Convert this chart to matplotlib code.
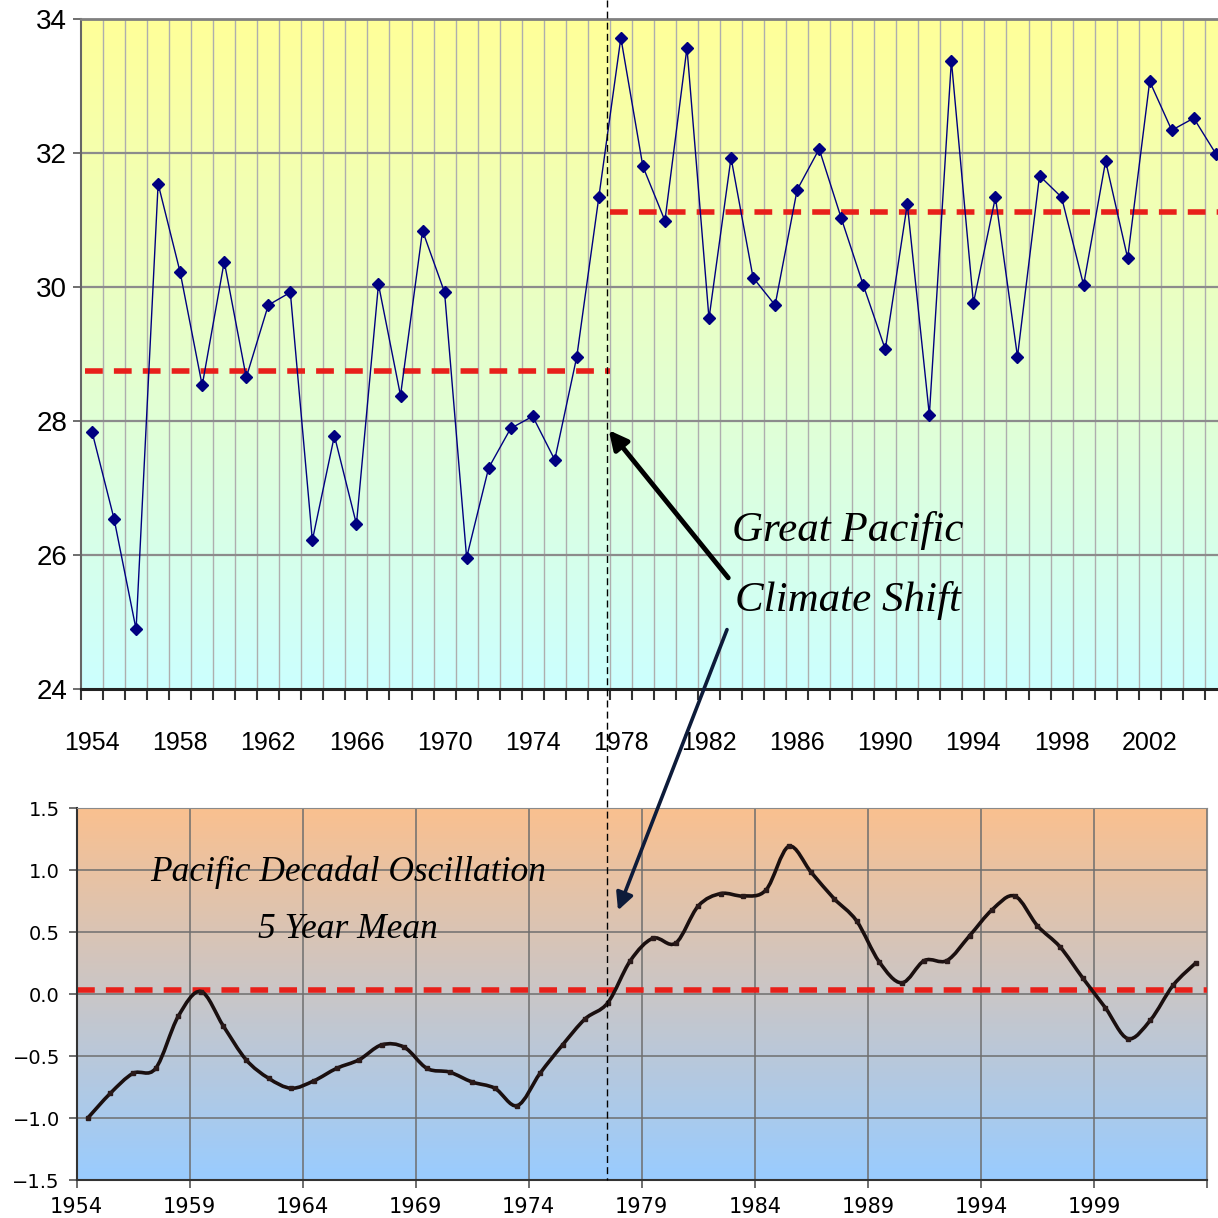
import numpy as np
import matplotlib
matplotlib.use("Agg")
import matplotlib.pyplot as plt
from matplotlib.colors import LinearSegmentedColormap
from matplotlib.path import Path
from matplotlib.patches import PathPatch, FancyArrowPatch
from matplotlib.lines import Line2D

# ---- data ------------------------------------------------------------------
years_top = list(range(1954, 2006))
temp = [27.84, 26.54, 24.89, 31.54, 30.22, 28.53, 30.38, 28.65, 29.73, 29.92,
        26.22, 27.78, 26.46, 30.04, 28.38, 30.84, 29.92, 25.96, 27.30, 27.89,
        28.07, 27.42, 28.96, 31.34, 33.72, 31.80, 30.99, 33.57, 29.53, 31.93,
        30.14, 29.73, 31.45, 32.06, 31.03, 30.03, 29.07, 31.24, 28.09, 33.38,
        29.76, 31.34, 28.96, 31.66, 31.34, 30.03, 31.88, 30.43, 33.07, 32.34,
        32.52, 31.99]
mean_before, mean_after = 28.75, 31.12
shift_year = 1977.5
top_ticklabels = list(range(1954, 2003, 4))

years_pdo = list(range(1954, 2004))
pdo = [-1.00, -0.80, -0.64, -0.60, -0.18, 0.02, -0.26, -0.53, -0.68, -0.76,
       -0.70, -0.60, -0.53, -0.41, -0.43, -0.60, -0.63, -0.71, -0.76, -0.90,
       -0.64, -0.41, -0.20, -0.07, 0.27, 0.45, 0.41, 0.71, 0.81, 0.79,
       0.84, 1.19, 0.98, 0.77, 0.59, 0.26, 0.09, 0.27, 0.27, 0.47,
       0.68, 0.79, 0.55, 0.38, 0.13, -0.11, -0.36, -0.21, 0.07, 0.25]
pdo_mean = 0.03
pdo_ticks = list(range(1954, 2005, 5))

# ---- layout helpers (pixel -> figure fraction) ------------------------------
W = H = 1218
def fx(x): return x / W
def fy(y): return 1 - y / H

def gradient(ax, top, bottom):
    cm = LinearSegmentedColormap.from_list("g", [bottom, top])
    g = np.linspace(0, 1, 256).reshape(-1, 1)
    ax.imshow(g, extent=[0, 1, 0, 1], transform=ax.transAxes, origin="lower",
              aspect="auto", cmap=cm, zorder=0)

def smooth_path(x, y):
    """Catmull-Rom -> cubic Bezier through the data points (Excel 'smoothed line')."""
    x = np.asarray(x, float); y = np.asarray(y, float)
    P = np.column_stack([x, y])
    Q = np.vstack([P[0], P, P[-1]])
    verts = [P[0]]; codes = [Path.MOVETO]
    for i in range(len(P) - 1):
        p0, p1, p2, p3 = Q[i], Q[i+1], Q[i+2], Q[i+3]
        verts += [p1 + (p2 - p0) / 6, p2 - (p3 - p1) / 6, p2]
        codes += [Path.CURVE4] * 3
    return Path(verts, codes)

fig = plt.figure(figsize=(W/100, H/100), dpi=100)
fig.patch.set_facecolor("white")

# ---- top panel ---------------------------------------------------------------
ax1 = fig.add_axes([fx(81), fy(689), 1 - fx(81), fy(19) - fy(689)])
gradient(ax1, "#FFFF99", "#CCFFFF")
ax1.set_xlim(1953.5, 2005.1); ax1.set_ylim(24, 34)
for b in np.arange(1954.5, 2005.5, 1):
    ax1.axvline(b, color="#AEAEAE", lw=1.0, zorder=1)
for v in [26, 28, 30, 32]:
    ax1.axhline(v, color="#8C8C8C", lw=1.6, zorder=1)
ax1.hlines(mean_before, 1953.7, shift_year, color="#E8201A", lw=4,
           linestyle=(0, (3.2, 2.0)), zorder=2)
ax1.hlines(mean_after, shift_year, 2005.1, color="#E8201A", lw=4,
           linestyle=(0, (3.2, 2.0)), zorder=2)
ax1.plot(years_top, temp, color="#000080", lw=1.0, marker="D", ms=6,
         mfc="#000080", mec="#000080", zorder=3, clip_on=False)
ax1.set_yticks([24, 26, 28, 30, 32, 34])
ax1.set_yticklabels(["24", "26", "28", "30", "32", "34"], family="Liberation Sans", size=20)
ax1.set_xticks(top_ticklabels)
ax1.set_xticklabels([str(t) for t in top_ticklabels], family="Liberation Sans", size=18)
ax1.set_xticks(np.arange(1953.5, 2005.5, 1), minor=True)
ax1.tick_params(axis="x", which="major", length=0, pad=30)
ax1.tick_params(axis="x", which="minor", length=8, width=1.5, color="#333333")
ax1.tick_params(axis="y", length=6, width=1.2, color="#555555", pad=4)
ax1.spines["right"].set_visible(False)
ax1.spines["top"].set_color("#808080"); ax1.spines["top"].set_linewidth(2)
ax1.spines["left"].set_color("#666666"); ax1.spines["left"].set_linewidth(1.5)
ax1.spines["bottom"].set_color("#222222"); ax1.spines["bottom"].set_linewidth(2.2)

# ---- bottom panel -----------------------------------------------------------
ax2 = fig.add_axes([fx(76.5), fy(1180), fx(1207) - fx(76.5), fy(808) - fy(1180)])
gradient(ax2, "#FAC08F", "#99CCFF")
ax2.set_xlim(1954, 2004); ax2.set_ylim(-1.5, 1.5)
ax2.set_xticks(pdo_ticks)
ax2.set_xticklabels([str(t) for t in pdo_ticks[:-1]] + [""], family="DejaVu Sans", size=15)
yt = [-1.5, -1.0, -0.5, 0.0, 0.5, 1.0, 1.5]
ax2.set_yticks(yt)
ax2.set_yticklabels([f"{v:.1f}".replace("-", "\u2212") for v in yt], family="DejaVu Sans", size=14)
ax2.grid(True, color="#6E6E6E", lw=1.1, zorder=1)
ax2.set_axisbelow(True)
ax2.axhline(pdo_mean, color="#E8201A", lw=4, linestyle=(0, (3.2, 2.0)), zorder=2)
xc = np.asarray(years_pdo) + 0.5          # category centres
ax2.add_patch(PathPatch(smooth_path(xc, pdo), fill=False, ec="#1A0F0F", lw=2.6, zorder=3))
ax2.plot(xc, pdo, ls="none", marker="s", ms=3.5, color="#2A1A1A", zorder=4)
ax2.tick_params(length=6, width=1.2, color="#555555", pad=6)
for s in ["top", "right"]:
    ax2.spines[s].set_color("#8A8A8A")
for s in ["left", "bottom"]:
    ax2.spines[s].set_color("#333333"); ax2.spines[s].set_linewidth(1.5)

# ---- annotations ------------------------------------------------------------
fig.add_artist(Line2D([fx(607), fx(607)], [fy(0), fy(1180)], transform=fig.transFigure,
                      color="black", lw=1.0, ls=(0, (5, 3)), zorder=5))
fig.add_artist(FancyArrowPatch((fx(730), fy(580)), (fx(607), fy(428)),
                               transform=fig.transFigure, arrowstyle="-|>",
                               mutation_scale=28, lw=3.5, color="black", zorder=6))
fig.add_artist(FancyArrowPatch((fx(728), fy(627)), (fx(617), fy(913)),
                               transform=fig.transFigure, arrowstyle="-|>",
                               mutation_scale=26, lw=2.6, color="#0D1B3A", zorder=6))

serif = dict(family="Liberation Serif", style="italic", ha="center", va="center", zorder=7)
fig.text(fx(848), fy(530), "Great Pacific", size=31, **serif)
fig.text(fx(848), fy(600), "Climate Shift", size=31, **serif)
fig.text(fx(348), fy(872), "Pacific Decadal Oscillation", size=25.5, **serif)
fig.text(fx(348), fy(930), "5 Year Mean", size=25.5, **serif)

fig.savefig("out.png", dpi=100)
